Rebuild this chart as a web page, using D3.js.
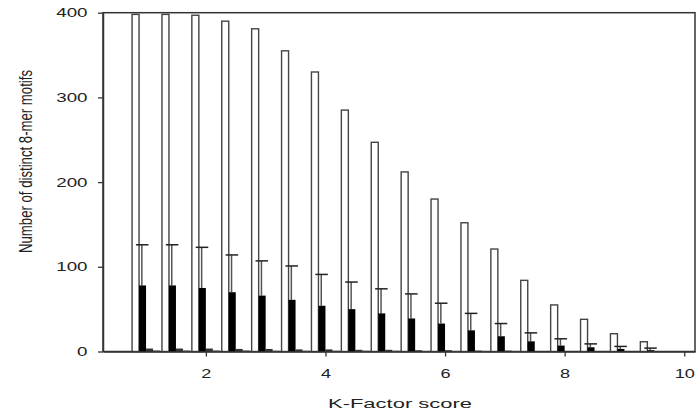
<!DOCTYPE html>
<html>
<head>
<meta charset="utf-8">
<script src="https://cdn.jsdelivr.net/npm/d3@7"></script>
<style>
  html, body { margin: 0; padding: 0; background: #fff; }
  svg { display: block; }
  text { font-family: "Liberation Sans", Arial, sans-serif; fill: #222; }
</style>
</head>
<body>
<svg id="chart" width="700" height="413"></svg>
<script>
// ---- data ----
const kFactor      = [1, 1.5, 2, 2.5, 3, 3.5, 4, 4.5, 5, 5.5, 6, 6.5, 7, 7.5, 8, 8.5, 9, 9.5];
const totalMotifs  = [398, 398, 397, 390, 381, 355, 330, 285, 247, 212, 180, 152, 121, 84, 55, 38, 21, 11.5];
const meanMotifs   = [78, 78, 75, 70, 66, 61, 54, 50, 45, 39, 33, 25, 18, 12, 7, 5, 3, 1.5];
const meanError    = [48, 48, 48, 44, 41, 40, 37, 32, 29, 29, 24, 20, 15, 10, 8, 4, 3, 2.5];
const thirdMotifs  = [3.5, 3.5, 3.5, 3, 3, 2.5, 2.5, 2, 2, 1.5, 1.5, 1, 1, 0.5, 0.5, 0, 0, 0];
const fourthMotifs = [1.5, 1.5, 1.5, 1.5, 1, 1, 1, 1, 1, 0.5, 0.5, 0.5, 0.5, 0, 0, 0, 0, 0];
const xTicks = [2, 4, 6, 8, 10];
const yTicks = [0, 100, 200, 300, 400];
const xLabel = "K-Factor score";
const yLabel = "Number of distinct 8-mer motifs";

const svg = d3.select("#chart");
const L = 103, R = 695, T = 12.7, B = 351.5;

const x = d3.scaleLinear().domain([0.28, 10.18]).range([L, R]);
const y = d3.scaleLinear().domain([0, 400]).range([B, T]);
const bw = 0.117; // bar width in K-factor units

const axisCol = "#333";

// frame
svg.append("rect")
  .attr("x", L).attr("y", T).attr("width", R - L).attr("height", B - T)
  .attr("fill", "none").attr("stroke", axisCol).attr("stroke-width", 1.5);

const g = svg.append("g");

// white bars
g.selectAll(".white").data(kFactor).enter().append("rect")
  .attr("x", d => x(d - 2 * bw))
  .attr("width", d => x(d - bw) - x(d - 2 * bw))
  .attr("y", (d, i) => y(totalMotifs[i]))
  .attr("height", (d, i) => y(0) - y(totalMotifs[i]))
  .attr("fill", "#fff").attr("stroke", "#444").attr("stroke-width", 1.4);

// error bars for black bars (upper only)
const eb = g.selectAll(".err").data(kFactor).enter().append("g");
eb.append("line")
  .attr("x1", d => x(d - 0.6 * bw)).attr("x2", d => x(d - 0.6 * bw))
  .attr("y1", (d, i) => y(meanMotifs[i]))
  .attr("y2", (d, i) => y(meanMotifs[i] + meanError[i]))
  .attr("stroke", "#555").attr("stroke-width", 1.5);
eb.append("line")
  .attr("x1", d => x(d - 0.55 * bw - 0.105)).attr("x2", d => x(d - 0.55 * bw + 0.105))
  .attr("y1", (d, i) => y(meanMotifs[i] + meanError[i]))
  .attr("y2", (d, i) => y(meanMotifs[i] + meanError[i]))
  .attr("stroke", "#222").attr("stroke-width", 1.5);

// black bars
g.selectAll(".black").data(kFactor).enter().append("rect")
  .attr("x", d => x(d - bw))
  .attr("width", d => x(d) - x(d - bw))
  .attr("y", (d, i) => y(meanMotifs[i]))
  .attr("height", (d, i) => y(0) - y(meanMotifs[i]))
  .attr("fill", "#000");

// third bars
g.selectAll(".third").data(kFactor).enter().append("rect")
  .attr("x", d => x(d))
  .attr("width", d => x(d + bw) - x(d))
  .attr("y", (d, i) => y(thirdMotifs[i]))
  .attr("height", (d, i) => y(0) - y(thirdMotifs[i]))
  .attr("fill", "#333");

// fourth bars
g.selectAll(".fourth").data(kFactor).enter().append("rect")
  .attr("x", d => x(d + bw))
  .attr("width", d => x(d + 2 * bw) - x(d + bw))
  .attr("y", (d, i) => y(fourthMotifs[i]))
  .attr("height", (d, i) => y(0) - y(fourthMotifs[i]))
  .attr("fill", "#777");

// axes
const xAxis = svg.append("g").attr("transform", `translate(0,${B})`)
  .call(d3.axisBottom(x).tickValues(xTicks).tickSize(5).tickSizeOuter(0).tickFormat(d3.format("d")));
const yAxis = svg.append("g").attr("transform", `translate(${L},0)`)
  .call(d3.axisLeft(y).tickValues(yTicks).tickSize(5).tickSizeOuter(0).tickFormat(d3.format("d")));
[xAxis, yAxis].forEach(a => {
  a.select(".domain").attr("stroke", axisCol).attr("stroke-width", 1.5);
  a.selectAll(".tick line").attr("stroke", axisCol).attr("stroke-width", 1.3);
  a.selectAll(".tick text").attr("font-size", 12.5).attr("fill", "#222").attr("font-family", null);
});
// stretch tick labels horizontally like the reference
xAxis.selectAll(".tick text").attr("dy", null).attr("y", 0)
  .attr("transform", "translate(0,26.5) scale(1.45,1)");
yAxis.selectAll(".tick text").attr("x", 0).attr("dx", null)
  .attr("transform", "translate(-15.5,0) scale(1.5,1)");

// axis titles
svg.append("text")
  .attr("x", 400).attr("y", 408)
  .attr("text-anchor", "middle").attr("font-size", 12.5)
  .attr("textLength", 144).attr("lengthAdjust", "spacingAndGlyphs")
  .text(xLabel);

svg.append("text")
  .attr("transform", "translate(32,161.5) scale(1.35,1) rotate(-90)")
  .attr("text-anchor", "middle").attr("font-size", 13.2)
  .attr("textLength", 183).attr("lengthAdjust", "spacingAndGlyphs")
  .text(yLabel);
</script>
</body>
</html>
